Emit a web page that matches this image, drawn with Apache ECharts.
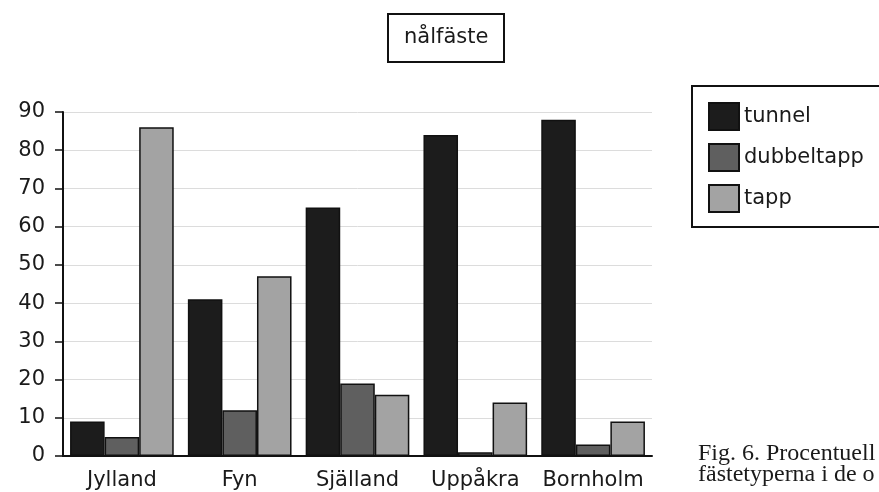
<!DOCTYPE html>
<html>
<head>
<meta charset="utf-8">
<script src="https://cdn.jsdelivr.net/npm/echarts@6/dist/echarts.min.js"></script>
<style>
  html, body { margin: 0; padding: 0; background: #fff; }
  #chart { width: 879px; height: 492px; }
</style>
</head>
<body>
<div id="chart"></div>
<script>
const regions = ['Jylland', 'Fyn', 'Själland', 'Uppåkra', 'Bornholm']
const tunnel = [9, 41, 65, 84, 88]
const dubbeltapp = [5, 12, 19, 1, 3]
const tapp = [86, 47, 16, 14, 9]

const font = 'DejaVu Sans'
const ink = '#1a1a1a'

const chart = echarts.init(document.getElementById('chart'))

const barStyle = (color) => ({
  color: color,
  borderColor: '#111',
  borderWidth: 1.5
})

chart.setOption({
  backgroundColor: '#fff',
  animation: false,
  title: {
    text: 'nålfäste',
    left: 388,
    top: 14,
    padding: [13, 16, 14, 16],
    borderColor: '#111',
    borderWidth: 2,
    textStyle: { fontFamily: font, fontSize: 21, fontWeight: 'normal', color: ink }
  },
  legend: {
    orient: 'vertical',
    left: 692,
    top: 86,
    padding: [16, 40, 14, 16],
    itemWidth: 30,
    itemHeight: 27,
    itemGap: 12,
    borderColor: '#111',
    borderWidth: 2,
    icon: 'rect',
    textStyle: { fontFamily: font, fontSize: 21, color: ink },
    data: ['tunnel', 'dubbeltapp', 'tapp']
  },
  grid: { left: 63, right: 227, top: 112, bottom: 36 },
  xAxis: {
    type: 'category',
    data: regions,
    axisLine: { lineStyle: { color: '#111', width: 2 } },
    axisTick: { length: 6, lineStyle: { color: '#111', width: 2 } },
    axisLabel: { fontFamily: font, fontSize: 21, color: ink, margin: 14, interval: 0 }
  },
  yAxis: {
    type: 'value',
    min: 0,
    max: 90,
    interval: 10,
    axisLine: { show: true, lineStyle: { color: '#111', width: 2 } },
    axisTick: { show: true, length: 8, lineStyle: { color: '#111', width: 1.5 } },
    axisLabel: { fontFamily: font, fontSize: 21, color: ink, margin: 18 },
    splitLine: { lineStyle: { color: '#dcdcdc', width: 1 } }
  },
  series: [
    { name: 'tunnel', type: 'bar', data: tunnel, barGap: '0%', barCategoryGap: '12%', itemStyle: barStyle('#1c1c1c') },
    { name: 'dubbeltapp', type: 'bar', data: dubbeltapp, itemStyle: barStyle('#5f5f5f') },
    { name: 'tapp', type: 'bar', data: tapp, itemStyle: barStyle('#a3a3a3') }
  ],
  graphic: [
    {
      type: 'text',
      left: 698,
      top: 442,
      style: { text: 'Fig. 6. Procentuell', fontFamily: 'Liberation Serif', fontSize: 24, fill: ink }
    },
    {
      type: 'text',
      left: 698,
      top: 463,
      style: { text: 'fästetyperna i de o', fontFamily: 'Liberation Serif', fontSize: 24, fill: ink }
    }
  ]
})
</script>
</body>
</html>
